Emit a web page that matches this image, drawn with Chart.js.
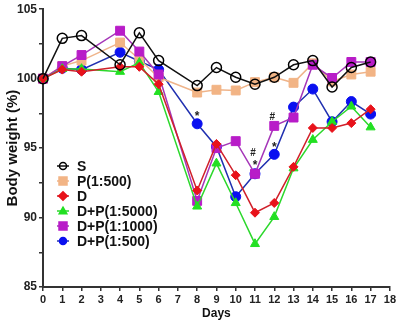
<!DOCTYPE html>
<html lang="en">
  <head>
    <meta charset="UTF-8">
    <title>Body weight over days</title>
    <script src="https://cdn.jsdelivr.net/npm/chart.js"></script>
    <style>
      html, body { margin: 0; padding: 0; background: #fff; }
      #wrap { width: 398px; height: 322px; }
    </style>
  </head>
  <body>
    <div id="wrap"><canvas id="myChart" width="398" height="322"></canvas></div>
    <script>
      // Measurement days (no readings on day 3 and 7)
      const days = [0, 1, 2, 4, 5, 6, 8, 9, 10, 11, 12, 13, 14, 15, 16, 17];

      // Body weight (%) per group
      const sValues    = [100, 102.9, 103.1, 101.0, 103.3, 101.3, 99.5, 100.8, 100.1, 99.6, 100.1, 101.0, 101.3, 99.4, 100.8, 101.2];
      const p500Values = [100, 100.9, 101.3, 102.6, 101.4, 100.1, 99.0, 99.2, 99.15, 99.75, 100.1, 99.7, 101.1, 99.8, 100.3, 100.5];
      const dValues    = [100, 100.65, 100.5, 100.85, 100.85, 99.6, 91.95, 95.3, 93.05, 90.35, 91.05, 93.65, 96.45, 96.45, 96.8, 97.8];
      const dp5000Values = [100, 100.7, 100.7, 100.5, 101.15, 99.05, 90.8, 93.9, 91.05, 88.1, 90.05, 93.55, 95.6, 96.9, 98.0, 96.5];
      const dp1000Values = [100, 100.9, 101.7, 103.45, 101.95, 100.3, 91.2, 95.0, 95.5, 93.15, 96.6, 97.2, 101.0, 100.05, 101.2, 101.2];
      const dp500Values  = [100, 100.75, 100.65, 101.9, 101.25, 100.65, 96.75, 95.1, 91.5, 93.15, 94.55, 97.95, 99.25, 96.9, 98.35, 97.45];

      // Significance marks: day, symbol, value just above the point
      const markDays   = [8, 11, 11, 12, 12];
      const markText   = ["*", "#", "*", "#", "*"];
      const markValues = [97.4, 94.65, 93.9, 97.2, 95.15];

      const FONT = "Arial, 'Liberation Sans', sans-serif";

      function toPoints(vals) {
        return vals.map((v, i) => ({ x: days[i], y: v }));
      }

      const series = [
        { label: "S", data: sValues, color: "#000000", line: "#111111", style: "circle", radius: 5, fill: "rgba(0,0,0,0)", order: 0 },
        { label: "P(1:500)", data: p500Values, color: "#F2B485", line: "#EFB48A", style: "rect", radius: 6.3, fill: "#F2B485", order: 4 },
        { label: "D", data: dValues, color: "#E8121A", line: "#D0202A", style: "rectRot", radius: 4.5, fill: "#E8121A", order: 1 },
        { label: "D+P(1:5000)", data: dp5000Values, color: "#22E022", line: "#2CD82C", style: "triangle", radius: 5.2, fill: "#22E022", order: 2 },
        { label: "D+P(1:1000)", data: dp1000Values, color: "#B81CC8", line: "#A536B8", style: "rect", radius: 6.3, fill: "#B81CC8", order: 3 },
        { label: "D+P(1:500)", data: dp500Values, color: "#0A10F0", line: "#2030B0", style: "circle", radius: 5, fill: "#0A10F0", order: 5 }
      ];

      // Draw small legend marker shapes
      function drawMarker(ctx, style, x, y, r, fill, stroke) {
        ctx.save();
        ctx.fillStyle = fill;
        ctx.strokeStyle = stroke;
        ctx.lineWidth = 1.5;
        ctx.beginPath();
        if (style === "circle") {
          ctx.arc(x, y, r, 0, Math.PI * 2);
        } else if (style === "rect") {
          ctx.rect(x - r, y - r, 2 * r, 2 * r);
        } else if (style === "rectRot") {
          ctx.moveTo(x, y - r - 0.5); ctx.lineTo(x + r + 0.5, y);
          ctx.lineTo(x, y + r + 0.5); ctx.lineTo(x - r - 0.5, y);
          ctx.closePath();
        } else if (style === "triangle") {
          ctx.moveTo(x, y - r); ctx.lineTo(x + r, y + r * 0.7); ctx.lineTo(x - r, y + r * 0.7);
          ctx.closePath();
        }
        if (fill !== "none") ctx.fill();
        ctx.stroke();
        ctx.restore();
      }

      const extrasPlugin = {
        id: "extras",
        afterDatasetsDraw(chart) {
          const ctx = chart.ctx;
          const xs = chart.scales.x, ys = chart.scales.y;

          // significance marks
          ctx.save();
          ctx.fillStyle = "#222";
          ctx.textAlign = "center";
          ctx.textBaseline = "middle";
          markDays.forEach((d, i) => {
            ctx.font = (markText[i] === "*" ? "bold 12px " : "bold 10px ") + FONT;
            const dx = markText[i] === "#" ? -2 : 0;
            ctx.fillText(markText[i], xs.getPixelForValue(d) + dx, ys.getPixelForValue(markValues[i]) + (markText[i] === "*" ? 2 : 0));
          });
          ctx.restore();

          // legend
          const lx = 63, ly0 = 166, step = 15;
          ctx.save();
          series.forEach((s, i) => {
            const y = ly0 + i * step;
            ctx.strokeStyle = s.line;
            ctx.lineWidth = 1.5;
            ctx.beginPath();
            ctx.moveTo(lx - 6, y); ctx.lineTo(lx + 6, y);
            ctx.stroke();
            const r = s.style === "rect" ? 4 : (s.style === "circle" ? 3.5 : 3.8);
            if (s.label === "S") {
              drawMarker(ctx, "circle", lx, y, 3.5, "none", "#000");
            } else {
              drawMarker(ctx, s.style, lx, y, r, s.fill, s.fill);
            }
            ctx.fillStyle = "#111";
            ctx.font = "bold 14px " + FONT;
            ctx.textAlign = "left";
            ctx.textBaseline = "middle";
            ctx.fillText(s.label, 77, y + 1);
          });
          ctx.restore();
        }
      };

      const ctx = document.getElementById("myChart").getContext("2d");
      new Chart(ctx, {
        type: "line",
        data: {
          datasets: series.map(s => ({
            label: s.label,
            data: toPoints(s.data),
            borderColor: s.line,
            borderWidth: 1.5,
            pointStyle: s.style,
            pointRadius: s.radius,
            pointBackgroundColor: s.fill,
            pointBorderColor: s.color,
            pointBorderWidth: s.label === "S" ? 1.5 : 1,
            tension: 0,
            fill: false,
            clip: false,
            order: s.order
          }))
        },
        options: {
          responsive: false,
          devicePixelRatio: 1,
          animation: false,
          layout: { padding: { top: 6, right: 6, left: 0, bottom: 0 } },
          plugins: {
            legend: { display: false },
            tooltip: { enabled: false }
          },
          scales: {
            x: {
              type: "linear",
              min: 0,
              max: 18,
              afterFit(scale) { scale.height = 35; },
              ticks: {
                stepSize: 1,
                autoSkip: false,
                maxRotation: 0,
                padding: 2,
                color: "#222",
                font: { family: FONT, size: 11, weight: "bold" }
              },
              grid: { drawOnChartArea: false, drawTicks: true, tickLength: 4, color: "#333", lineWidth: 1.5 },
              border: { color: "#333", width: 2 },
              title: {
                display: true,
                text: "Days",
                color: "#111",
                padding: { top: 0, bottom: 1 },
                font: { family: FONT, size: 12, weight: "bold" }
              }
            },
            y: {
              min: 85,
              max: 105,
              afterFit(scale) { scale.width = 43; },
              ticks: {
                stepSize: 2.5,
                autoSkip: false,
                padding: 2,
                color: "#222",
                font: { family: FONT, size: 12, weight: "bold" },
                callback: v => (v % 5 === 0 ? v : "")
              },
              grid: { drawOnChartArea: false, drawTicks: true, tickLength: 4, color: "#333", lineWidth: 1.5 },
              border: { color: "#333", width: 2 },
              title: {
                display: true,
                text: "Body weight (%)",
                color: "#111",
                padding: { top: 4, bottom: 2 },
                font: { family: FONT, size: 15, weight: "bold" }
              }
            }
          }
        },
        plugins: [extrasPlugin]
      });
    </script>
  </body>
</html>
